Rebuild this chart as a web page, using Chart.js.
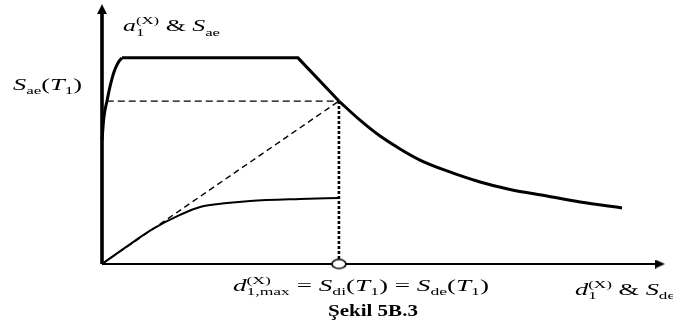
<!DOCTYPE html>
<html>
<head>
<meta charset="utf-8">
<script src="https://cdn.jsdelivr.net/npm/chart.js@4/dist/chart.umd.min.js"></script>
<style>
  html, body { margin: 0; padding: 0; background: #fff; }
  #wrap { width: 673px; height: 326px; }
</style>
</head>
<body>
<div id="wrap"><canvas id="c" width="673" height="326"></canvas></div>
<script>
// Elastic spectrum (ADRS form): rising branch, plateau + linear drop, decaying branch
const riseX    = [0, 0.008, 0.021, 0.034, 0.051, 0.068, 0.084];
const riseY    = [0.76, 0.90, 1.00, 1.09, 1.18, 1.235, 1.265];
const plateauX = [0.084, 0.827, 1.0];
const plateauY = [1.265, 1.265, 1.0];
const decayX   = [1.0, 1.089, 1.174, 1.258, 1.342, 1.456, 1.596, 1.722, 1.878, 2.018, 2.195];
const decayY   = [1.0, 0.883, 0.785, 0.706, 0.638, 0.571, 0.503, 0.457, 0.417, 0.380, 0.344];

// Modal capacity curve
const capacityX = [0, 0.104, 0.215, 0.329, 0.414, 0.528, 0.625, 0.836, 1.0];
const capacityY = [0, 0.107, 0.215, 0.301, 0.350, 0.374, 0.387, 0.399, 0.405];

// Performance point: d1,max = Sdi(T1) = Sde(T1), Sae(T1)
const perfX = [1.0];
const perfY = [1.0];

// Axis extents (arrowhead centres)
const xAxisEnd = 2.355;
const yAxisEnd = 1.564;
const xMax = 2.41, yMax = 1.62;

const pts = (xs, ys) => xs.map((x, i) => ({ x, y: ys[i] }));

function arrowUp(w, h) {
  const c = document.createElement('canvas'); c.width = w; c.height = h;
  const g = c.getContext('2d');
  g.beginPath(); g.moveTo(w / 2, 0); g.lineTo(w, h); g.lineTo(0, h); g.closePath();
  g.fillStyle = '#000'; g.fill();
  return c;
}
function arrowRight(w, h) {
  const c = document.createElement('canvas'); c.width = w; c.height = h;
  const g = c.getContext('2d');
  g.beginPath(); g.moveTo(w, h / 2); g.lineTo(0, 0); g.lineTo(0, h); g.closePath();
  g.fillStyle = '#000'; g.fill();
  return c;
}
function ellipseMarker(w, h, lw) {
  const c = document.createElement('canvas'); c.width = w + 4; c.height = h + 4;
  const g = c.getContext('2d');
  g.beginPath(); g.ellipse(c.width / 2, c.height / 2, w / 2, h / 2, 0, 0, Math.PI * 2);
  g.fillStyle = '#fff'; g.fill();
  g.lineWidth = lw; g.strokeStyle = '#000'; g.stroke();
  return c;
}

const lineDs = (data, width, dash, extra) => Object.assign({
  data, borderColor: '#000', borderWidth: width, borderDash: dash || [],
  pointRadius: 0, fill: false, tension: 0, clip: false
}, extra || {});

// ---- math-style labels drawn on the canvas ----
const FAM = '"Liberation Serif", "Times New Roman", serif';
function drawMath(ctx, parts, anchorX, baseY, align, targetW, size) {
  const subSize = Math.round(size * 0.64);
  const font = k => k === 'i' ? `italic ${size}px ${FAM}` :
                    k === 'b' ? `bold ${size}px ${FAM}` :
                    (k === 'sub' || k === 'sup' || k === 'ss') ? `${subSize}px ${FAM}` : `${size}px ${FAM}`;
  let W = 0; const widths = [];
  parts.forEach(p => {
    ctx.font = font(p[0]);
    let w;
    if (p[0] === 'ss') w = Math.max(ctx.measureText(p[1]).width, ctx.measureText(p[2]).width);
    else w = ctx.measureText(p[1]).width;
    widths.push(w); W += w;
  });
  const sx = targetW ? targetW / W : 1;
  const total = W * sx;
  const left = align === 'center' ? anchorX - total / 2 : align === 'right' ? anchorX - total : anchorX;
  ctx.save();
  ctx.translate(left, baseY);
  ctx.scale(sx, 1);
  ctx.fillStyle = '#000';
  ctx.textBaseline = 'alphabetic';
  ctx.textAlign = 'left';
  let x = 0;
  parts.forEach((p, i) => {
    ctx.font = font(p[0]);
    if (p[0] === 'ss') {
      ctx.fillText(p[1], x, size * 0.26);
      ctx.fillText(p[2], x, -size * 0.42);
    } else if (p[0] === 'sub') {
      ctx.fillText(p[1], x, size * 0.26);
    } else if (p[0] === 'sup') {
      ctx.fillText(p[1], x, -size * 0.42);
    } else {
      ctx.fillText(p[1], x, 0);
    }
    x += widths[i];
  });
  ctx.restore();
}

const labelPlugin = {
  id: 'mathLabels',
  afterDraw(chart) {
    const ctx = chart.ctx, xs = chart.scales.x, ys = chart.scales.y;
    const x0 = xs.getPixelForValue(0), y0 = ys.getPixelForValue(0);
    const px = xs.getPixelForValue(perfX[0]), py = ys.getPixelForValue(perfY[0]);
    const yTop = ys.getPixelForValue(yAxisEnd), xEnd = xs.getPixelForValue(xAxisEnd);

    // vertical axis title
    drawMath(ctx, [['i', 'a'], ['ss', '1', '(X)'], ['n', ' & '], ['i', 'S'], ['sub', 'ae']],
      x0 + 21, yTop + 22, 'left', 97, 17);
    // ordinate of the performance point
    drawMath(ctx, [['i', 'S'], ['sub', 'ae'], ['n', '('], ['i', 'T'], ['sub', '1'], ['n', ')']],
      x0 - 20, py - 11, 'right', 69, 17);
    // abscissa of the performance point
    drawMath(ctx, [['i', 'd'], ['ss', '1,max', '(X)'], ['n', ' = '], ['i', 'S'], ['sub', 'di'],
      ['n', '('], ['i', 'T'], ['sub', '1'], ['n', ') = '], ['i', 'S'], ['sub', 'de'],
      ['n', '('], ['i', 'T'], ['sub', '1'], ['n', ')']],
      px + 22, y0 + 27, 'center', 256, 17);
    // horizontal axis title
    drawMath(ctx, [['i', 'd'], ['ss', '1', '(X)'], ['n', ' & '], ['i', 'S'], ['sub', 'de']],
      xEnd - 85, y0 + 31, 'left', 100, 17);
    // figure caption
    drawMath(ctx, [['b', 'Şekil 5B.3']], px + 34, y0 + 52, 'center', 90, 17);
  }
};

new Chart(document.getElementById('c'), {
  type: 'line',
  data: {
    datasets: [
      // performance point marker on the displacement axis
      { data: pts(perfX, [0]), showLine: false, pointStyle: ellipseMarker(14, 9, 1.6),
        pointRadius: 6, borderColor: '#000', backgroundColor: '#fff', clip: false },
      // axis arrowheads
      { data: [{ x: 0, y: yAxisEnd }], showLine: false, pointStyle: arrowUp(10, 10),
        pointRadius: 5, clip: false },
      { data: [{ x: xAxisEnd, y: 0 }], showLine: false, pointStyle: arrowRight(10, 9),
        pointRadius: 5, clip: false },
      // spectrum
      lineDs(pts(riseX, riseY), 3, null, { cubicInterpolationMode: 'monotone' }),
      lineDs(pts(plateauX, plateauY), 3),
      lineDs(pts(decayX, decayY), 3, null, { cubicInterpolationMode: 'monotone' }),
      // capacity curve
      lineDs(pts(capacityX, capacityY), 2, null, { cubicInterpolationMode: 'monotone' }),
      // construction lines
      lineDs([{ x: 0.02, y: perfY[0] }, { x: perfX[0], y: perfY[0] }], 1.3, [7, 4]),
      lineDs([{ x: 0, y: 0 }, { x: perfX[0], y: perfY[0] }], 1.4, [6, 4]),
      lineDs([{ x: perfX[0], y: perfY[0] }, { x: perfX[0], y: 0 }], 2.6, [3, 2]),
      // axes
      lineDs([{ x: 0, y: 0 }, { x: 0, y: yAxisEnd }], 3.6),
      lineDs([{ x: 0, y: 0 }, { x: xAxisEnd, y: 0 }], 2.2)
    ]
  },
  options: {
    responsive: false,
    devicePixelRatio: 1,
    animation: false,
    events: [],
    layout: { autoPadding: false, padding: { left: 102, right: 0, top: 0, bottom: 62 } },
    plugins: { legend: { display: false }, tooltip: { enabled: false } },
    scales: {
      x: { type: 'linear', min: 0, max: xMax, display: false },
      y: { type: 'linear', min: 0, max: yMax, display: false }
    }
  },
  plugins: [labelPlugin]
});
</script>
</body>
</html>
